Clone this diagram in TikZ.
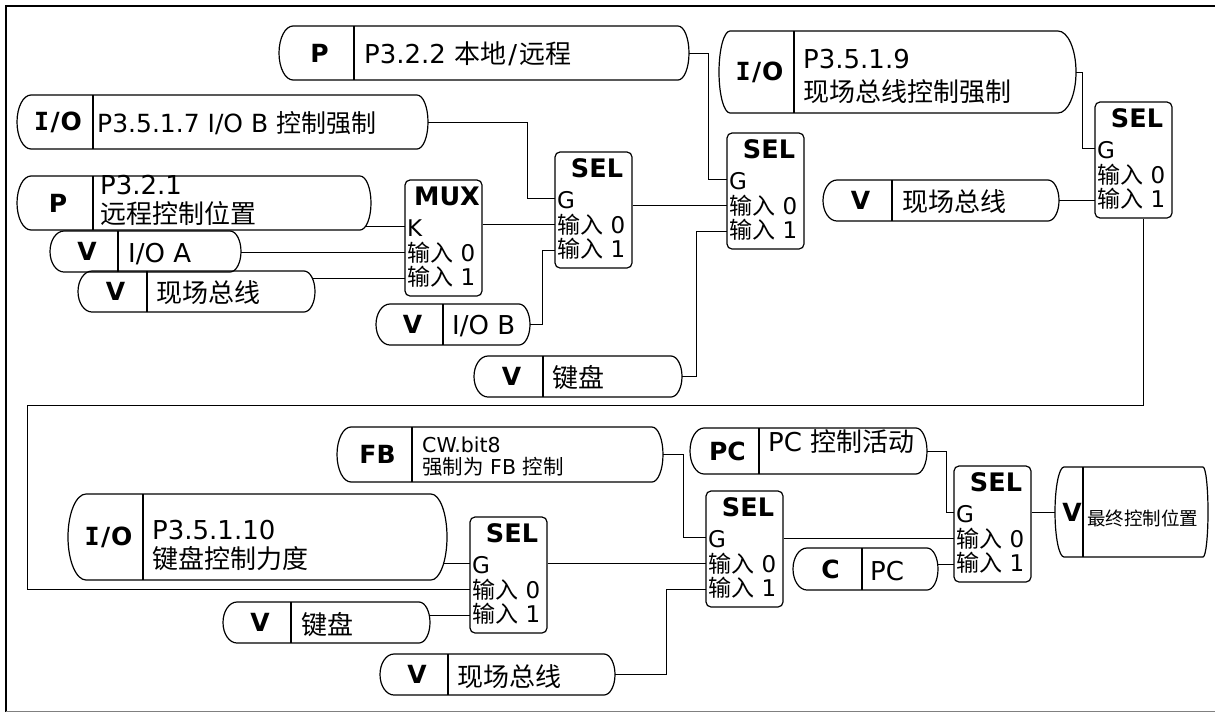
\documentclass[tikz,border=0pt]{standalone}
\usepackage{fontspec}
\setmainfont{DejaVu Sans}
\newfontfamily\cjk{Noto Sans CJK SC}
\newfontfamily\iofont{DejaVu Sans Mono Bold}
\usetikzlibrary{calc}
\tikzset{
  boxline/.style={line width=1.2pt, line join=round},
  conn/.style={line width=1pt},
  lab/.style={inner sep=0, font=\fontsize{25}{25}\selectfont\bfseries},
  txt/.style={inner sep=0, anchor=base west, font=\fontsize{26}{27}\selectfont},
  midtxt/.style={inner sep=0, anchor=base west, font=\fontsize{25}{26}\selectfont},
  smalltxt/.style={inner sep=0, anchor=base west, font=\fontsize{20.5}{21}\selectfont},
  tinytxt/.style={inner sep=0, anchor=base west, font=\fontsize{18.5}{19}\selectfont},
  seltxt/.style={inner sep=0, anchor=base west, font=\fontsize{23}{23}\selectfont},
  seltitle/.style={inner sep=0, anchor=base, font=\fontsize{25.5}{25}\selectfont\bfseries},
  selbox/.style={draw, line width=1.2pt, rounded corners=5pt, inner sep=0,
    minimum width=77pt, minimum height=116pt},
}
\newcommand\IO{{\iofont I}\kern1.5pt/\kern1pt O}
\def\rxl{14}\def\rxr{11}
% terminator: name, xl, yt, xr, yb, xdiv, label
\newcommand\term[7]{%
  \pgfmathsetmacro\tcy{(#3+#5)/2}%
  \pgfmathsetmacro\try{(#5-#3)/2}%
  \node[inner sep=0, outer sep=0, minimum width={(#4-#2)*1pt}, minimum height={(#5-#3)*1pt}] (#1) at ({(#2+#4)/2},\tcy) {};
  \draw[boxline] ({#2+\rxl},#3) -- ({#4-\rxr},#3)
     arc[start angle=90, end angle=-90, x radius=\rxr pt, y radius=\try pt]
     -- ({#2+\rxl},#5)
     arc[start angle=270, end angle=90, x radius=\rxl pt, y radius=\try pt] -- cycle;
  \draw[boxline] (#6,#3) -- (#6,#5);
  \node[lab] (#1l) at ({(#2+#6)/2+3},\tcy) {#7};
}
% selector box: name, xl, yt, title, first input
\newcommand\selb[5]{%
  \node[selbox] (#1) at ({#2+38.5},{#3+58}) {};
  \node[seltitle] (#1t) at ({#2+42},{#3+25}) {#4};
  \node[seltxt] (#1a) at ({#2+2},{#3+56}) {#5};
  \node[seltxt] (#1b) at ({#2+2},{#3+81}) {{\cjk 输入} 0};
  \node[seltxt] (#1c) at ({#2+2},{#3+105}) {{\cjk 输入} 1};
  \coordinate (#1g) at (#2,{#3+46});
  \coordinate (#1i0) at (#2,{#3+72});
  \coordinate (#1i1) at (#2,{#3+98});
}
\begin{document}
\begin{tikzpicture}[x=1pt, y=-1pt]
\useasboundingbox (0,0) rectangle (1215,713);
% frame
\draw[line width=1.5pt] (6,712) -- (6,6) -- (1215,6);
\draw[line width=1pt, gray] (6,711.5) -- (1215,711.5);

% terminators
\term{PA}{279}{26}{689}{80}{354}{P}
\term{IOB}{17}{95}{428}{149}{93}{\IO}
\term{PB}{17}{176}{371}{230}{93}{P}
\term{VA}{50}{231}{241}{272}{118}{V}
\term{VF1}{78}{271}{315}{312}{147}{V}
\term{VB}{376}{304}{530}{345}{443}{V}
\term{VK1}{474}{356}{682}{397}{543}{V}
\def\rxl{11}\def\rxr{18}
\term{IO9}{719}{31}{1076}{113}{794}{\IO}
\def\rxl{14}\def\rxr{11}
\term{VF2}{823}{180}{1059}{221}{892}{V}
\term{FB}{337}{427}{663}{482}{412}{FB}
\def\rxl{18}\def\rxr{16}
\term{IO10}{68}{494}{447}{580}{143}{\IO}
\def\rxl{14}\def\rxr{11}
\term{VK2}{223}{602}{430}{643}{291}{V}
\term{VF3}{380}{654}{615}{695}{448}{V}
\term{PC}{690}{428}{927}{474}{759}{PC}
\term{C}{793}{548}{938}{590}{862}{C}
\def\rxl{9}\def\rxr{5}
\term{VOUT}{1055}{467}{1208}{557}{1083}{V}

% texts
\node[txt] (PAt) at (364,63) {P3.2.2 {\cjk 本地}\kern2pt/\kern2pt{\cjk 远程}};
\node[midtxt] (IOBt) at (97,132) {P3.5.1.7 I/O B {\cjk 控制强制}};
\node[txt] (PBt1) at (100,194) {P3.2.1};
\node[txt] (PBt2) at (100,223) {\cjk 远程控制位置};
\node[txt] (VAt) at (128,262) {I/O A};
\node[txt] (VF1t) at (156,302) {\cjk 现场总线};
\node[txt] (VBt) at (452,334) {I/O B};
\node[txt] (VK1t) at (552,387) {\cjk 键盘};
\node[txt] (IO9t1) at (803,68) {P3.5.1.9};
\node[txt] (IO9t2) at (803,101) {\cjk 现场总线控制强制};
\node[txt] (VF2t) at (902,211) {\cjk 现场总线};
\node[smalltxt] (FBt1) at (422,452) {CW.bit8};
\node[smalltxt] (FBt2) at (422,474) {{\cjk 强制为} FB {\cjk 控制}};
\node[txt] (IO10t1) at (152,539) {P3.5.1.10};
\node[txt] (IO10t2) at (152,568) {\cjk 键盘控制力度};
\node[txt] (VK2t) at (301,634) {\cjk 键盘};
\node[txt] (VF3t) at (457,686) {\cjk 现场总线};
\node[txt] (PCt) at (768,451) {PC {\cjk 控制活动}};
\node[txt] (Ct) at (870,580) {PC};
\node[tinytxt] (VOUTt) at (1087,525) {\cjk 最终控制位置};

% selector boxes
\selb{MUX}{405}{180}{MUX}{K}
\selb{S1}{555}{152}{SEL}{G}
\selb{S2}{727}{133}{SEL}{G}
\selb{S3}{1095}{102}{SEL}{G}
\selb{S4}{470}{517}{SEL}{G}
\selb{S5}{706}{491}{SEL}{G}
\selb{S6}{954}{466}{SEL}{G}

% connectors
\draw[conn] (PA.east) -- ++(19,0) |- (S2g);
\draw[conn] (IOB.east) -- ++(99,0) |- (S1g);
\draw[conn] ($(MUXg -| PB.east)+(-5,0)$) -- (MUXg);
\draw[conn] (MUXi0 -| VA.east) -- (MUXi0);
\draw[conn] ($(MUXi1 -| VF1.east)+(-3,0)$) -- (MUXi1);
\draw[conn] (S1i0 -| MUX.east) -- (S1i0);
\draw[conn] (VB.east) -- ++(12,0) |- (S1i1);
\draw[conn] (S2i0 -| S1.east) -- (S2i0);
\draw[conn] (VK1.east) -- ++(14,0) |- (S2i1);
\draw[conn] (IO9.east) -- ++(6,0) |- (S3g);
\draw[conn] (S3i1 -| VF2.east) -- (S3i1);
\coordinate (bendA) at (27,405);
\draw[conn] ([xshift=9.5pt]S3.south) |- (bendA) |- (S4i0);
\draw[conn] ($(S4g -| IO10.east)+(-4,0)$) -- (S4g);
\draw[conn] ($(S4i1 -| VK2.east)+(-1,0)$) -- (S4i1);
\draw[conn] (S5i0 -| S4.east) -- (S5i0);
\draw[conn] (FB.east) -- ++(20,0) |- (S5g);
\draw[conn] (VF3.east) -- ++(51,0) |- (S5i1);
\draw[conn] (S6i0 -| S5.east) -- (S6i0);
\draw[conn] (PC.east) -- ++(19,0) |- (S6g);
\draw[conn] (S6i1 -| C.east) -- (S6i1);
\draw[conn] (S6.east |- VOUT.west) -- (VOUT.west);
\end{tikzpicture}
\end{document}
